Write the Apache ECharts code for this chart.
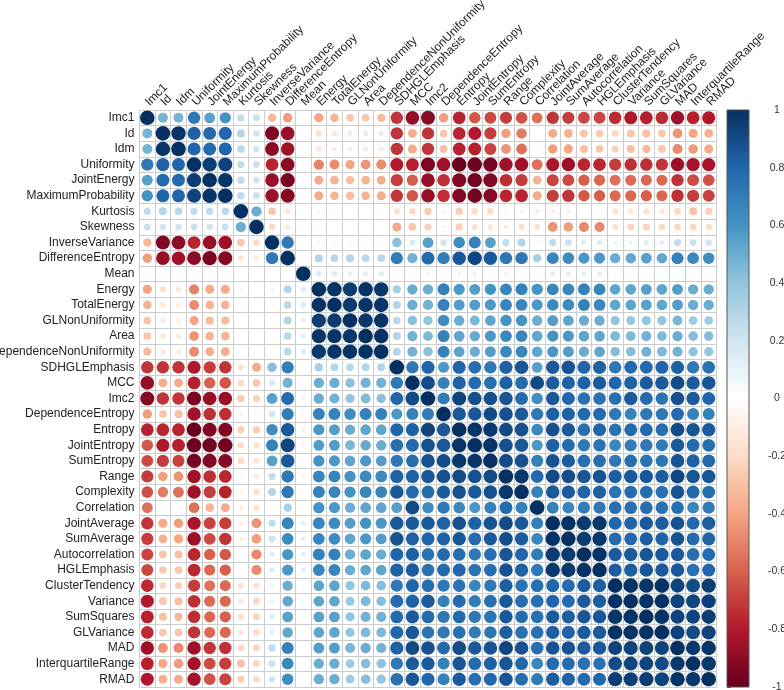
<!DOCTYPE html>
<html><head><meta charset="utf-8">
<style>html,body{margin:0;padding:0;background:#fff}#c{width:784px;height:690px}</style>
<script src="https://cdn.jsdelivr.net/npm/echarts@6/dist/echarts.min.js"></script>
</head><body><div id="c"></div>
<script>
const labels=["Imc1","Id","Idm","Uniformity","JointEnergy","MaximumProbability","Kurtosis","Skewness","InverseVariance","DifferenceEntropy","Mean","Energy","TotalEnergy","GLNonUniformity","Area","DependenceNonUniformity","SDHGLEmphasis","MCC","Imc2","DependenceEntropy","Entropy","JointEntropy","SumEntropy","Range","Complexity","Correlation","JointAverage","SumAverage","Autocorrelation","HGLEmphasis","ClusterTendency","Variance","SumSquares","GLVariance","MAD","InterquartileRange","RMAD"];
// upper triangle of the correlation matrix, each row starts on the diagonal
const r00=[1,.47,.47,.72,.55,.6,.25,.22,-.33,-.42,-.05,-.4,-.35,-.28,-.28,-.32,-.72,-.88,-.92,-.42,-.77,-.62,-.66,-.7,-.64,-.55,-.72,-.7,-.67,-.67,-.75,-.8,-.78,-.75,-.85,-.78,-.8];
const r01=[1,.98,.82,.78,.8,.3,.2,-.93,-.87,-.03,-.18,-.14,-.12,-.14,-.13,-.72,-.37,-.72,-.28,-.76,-.8,-.7,-.42,-.52,0,-.38,-.36,-.28,-.26,-.22,-.28,-.3,-.27,-.45,-.4,-.36];
const r02=[1,.8,.78,.8,.28,.2,-.9,-.85,-.03,-.15,-.12,-.1,-.12,-.12,-.72,-.38,-.72,-.3,-.77,-.78,-.68,-.45,-.55,-.03,-.42,-.4,-.3,-.28,-.24,-.3,-.33,-.28,-.48,-.43,-.38];
const r03=[1,.95,.93,.25,.22,-.77,-.9,-.05,-.5,-.47,-.4,-.45,-.47,-.8,-.78,-.95,-.85,-.99,-.98,-.96,-.85,-.85,-.55,-.82,-.86,-.76,-.76,-.7,-.74,-.74,-.72,-.86,-.84,-.83];
const r04=[1,.98,.25,.2,-.87,-.95,-.04,-.38,-.35,-.32,-.35,-.37,-.7,-.6,-.87,-.74,-.93,-.97,-.93,-.74,-.7,-.35,-.68,-.66,-.6,-.58,-.55,-.57,-.58,-.57,-.72,-.66,-.64];
const r05=[1,.27,.22,-.86,-.92,-.03,-.38,-.35,-.32,-.35,-.37,-.72,-.63,-.87,-.74,-.93,-.97,-.92,-.76,-.77,-.38,-.7,-.72,-.62,-.6,-.57,-.58,-.6,-.58,-.73,-.7,-.68];
const r06=[1,.5,-.28,-.15,-.02,-.06,-.05,0,-.02,-.03,-.18,-.2,-.26,-.07,-.25,-.2,-.2,-.05,-.08,-.1,-.1,-.1,-.03,-.05,-.17,-.14,-.18,-.14,-.22,-.3,-.25];
const r07=[1,-.2,-.12,-.03,-.03,-.02,0,0,0,-.38,-.28,-.24,-.06,-.25,-.17,-.15,-.12,-.18,-.17,-.45,-.42,-.48,-.48,-.17,-.22,-.23,-.2,-.22,-.22,-.2];
const r08=[1,.72,.02,.07,.05,.05,.05,.04,.42,.17,.55,.2,.62,.68,.55,.25,.3,-.04,.25,.22,.14,.14,.08,.08,.14,.12,.25,.22,.2];
const r09=[1,.02,.3,.28,.3,.28,.28,.7,.48,.78,.7,.85,.92,.85,.72,.72,.33,.67,.64,.58,.58,.5,.52,.55,.52,.68,.65,.62];
const r10=[1,.15,.15,.12,.13,.14,.05,.03,.08,.04,.08,.08,.05,.08,.05,.03,.12,.12,.12,.12,.05,.04,.05,.05,.04,.04,.03];
const r11=[1,.99,.95,.98,.97,.33,.5,.5,.68,.58,.56,.6,.66,.68,.6,.66,.66,.68,.66,.53,.53,.55,.53,.56,.5,.5];
const r12=[1,.96,.98,.98,.3,.5,.48,.68,.56,.56,.58,.66,.66,.58,.64,.64,.68,.66,.53,.53,.55,.53,.56,.5,.5];
const r13=[1,.97,.98,.28,.42,.4,.63,.5,.46,.53,.6,.6,.5,.56,.53,.5,.5,.4,.38,.4,.4,.46,.36,.36];
const r14=[1,.99,.3,.48,.45,.68,.53,.51,.58,.65,.66,.53,.6,.58,.53,.53,.45,.45,.48,.45,.5,.43,.43];
const r15=[1,.3,.48,.42,.68,.53,.5,.56,.65,.66,.53,.58,.56,.5,.53,.43,.43,.48,.45,.48,.41,.4];
const r16=[1,.72,.8,.58,.8,.76,.72,.82,.86,.55,.84,.87,.8,.82,.72,.78,.78,.8,.82,.72,.75];
const r17=[1,.9,.68,.82,.78,.76,.82,.78,.9,.84,.82,.82,.84,.8,.82,.84,.85,.9,.84,.86];
const r18=[1,.7,.93,.88,.88,.86,.78,.62,.85,.8,.75,.75,.76,.84,.78,.74,.88,.84,.8];
const r19=[1,.85,.85,.9,.88,.84,.72,.82,.82,.78,.78,.72,.68,.72,.72,.78,.68,.68];
const r20=[1,.98,.97,.9,.88,.65,.88,.85,.76,.8,.74,.78,.78,.76,.9,.86,.84];
const r21=[1,.98,.88,.85,.58,.82,.78,.72,.74,.66,.7,.72,.7,.84,.78,.76];
const r22=[1,.9,.88,.68,.87,.84,.76,.76,.72,.76,.74,.73,.87,.82,.79];
const r23=[1,.97,.78,.9,.89,.86,.87,.83,.85,.85,.83,.92,.86,.86];
const r24=[1,.68,.85,.84,.8,.82,.74,.77,.77,.75,.87,.79,.77];
const r25=[1,.68,.66,.7,.72,.76,.76,.76,.75,.76,.66,.7];
const r26=[1,.99,.96,.97,.8,.8,.84,.83,.87,.78,.83];
const r27=[1,.96,.97,.78,.78,.83,.81,.87,.78,.81];
const r28=[1,.99,.84,.84,.86,.84,.84,.76,.78];
const r29=[1,.83,.83,.86,.84,.85,.75,.79];
const r30=[1,.99,.98,.99,.93,.9,.95];
const r31=[1,.99,.99,.93,.92,.94];
const r32=[1,.99,.93,.92,.95];
const r33=[1,.93,.9,.93];
const r34=[1,.97,.98];
const r35=[1,.97];
const r36=[1];
const upperRows=[r00,r01,r02,r03,r04,r05,r06,r07,r08,r09,r10,r11,r12,r13,r14,r15,r16,r17,r18,r19,r20,r21,r22,r23,r24,r25,r26,r27,r28,r29,r30,r31,r32,r33,r34,r35,r36];
const legendTicks=[-1,1];
const palette=["#67001F","#B2182B","#D6604D","#F4A582","#FDDBC7","#FFFFFF","#D1E5F0","#92C5DE","#4393C3","#2166AC","#053061"];

const cells=[];
upperRows.forEach((row,i)=>row.forEach((v,k)=>{
  const j=i+k;
  cells.push([labels[j],labels[i],v]);
  if(j!==i)cells.push([labels[i],labels[j],v]);
}));
const chart=echarts.init(document.getElementById('c'),null,{renderer:'canvas'});
const gridLine={show:true,interval:0,lineStyle:{color:'#cdcdcd',width:1}};
const font={fontFamily:'Liberation Sans',fontSize:12,color:'#222'};
chart.setOption({
  animation:false,
  backgroundColor:'#fff',
  grid:[
    {left:139.5,top:110,width:577,height:577,outerBoundsMode:'none'},
    {left:727,top:110,width:22,height:577,outerBoundsMode:'none'}
  ],
  xAxis:[
    {gridIndex:0,type:'category',position:'top',data:labels,axisLine:{show:false},axisTick:{show:false},splitLine:gridLine,
     axisLabel:Object.assign({interval:0,rotate:-45,margin:6,hideOverlap:false},font)},
    {gridIndex:1,type:'value',min:0,max:1,show:false}
  ],
  yAxis:[
    {gridIndex:0,type:'category',inverse:true,data:labels,axisLine:{show:false},axisTick:{show:false},splitLine:gridLine,
     axisLabel:Object.assign({interval:0,margin:5,hideOverlap:false},font)},
    {gridIndex:1,type:'value',position:'right',min:legendTicks[0],max:legendTicks[1],interval:0.2,
     axisLine:{show:false},axisTick:{show:true,length:4,lineStyle:{color:'#555'}},splitLine:{show:false},
     axisLabel:{fontFamily:'Liberation Sans',fontSize:10.5,color:'#333',align:'center',margin:28,
       formatter:v=>String(Math.round(v*10)/10)}}
  ],
  visualMap:{show:false,seriesIndex:0,dimension:2,min:-1,max:1,inRange:{color:palette}},
  series:[
    {type:'scatter',xAxisIndex:0,yAxisIndex:0,data:cells,symbol:'circle',silent:true,itemStyle:{opacity:1},
     symbolSize:d=>14.6*Math.sqrt(Math.abs(d[2]))},
    {type:'custom',xAxisIndex:1,yAxisIndex:1,silent:true,data:[[0,-1,1,1]],
     encode:{x:[0,2],y:[1,3]},
     renderItem:(p,api)=>{
       const a=api.coord([api.value(0),api.value(1)]);
       const b=api.coord([api.value(2),api.value(3)]);
       return {type:'rect',shape:{x:a[0],y:b[1],width:b[0]-a[0],height:a[1]-b[1]},
         style:{stroke:'#555',lineWidth:1,
           fill:new echarts.graphic.LinearGradient(0,1,0,0,palette.map((c,i)=>({offset:i/(palette.length-1),color:c})))}};
     }}
  ]
});
</script></body></html>
